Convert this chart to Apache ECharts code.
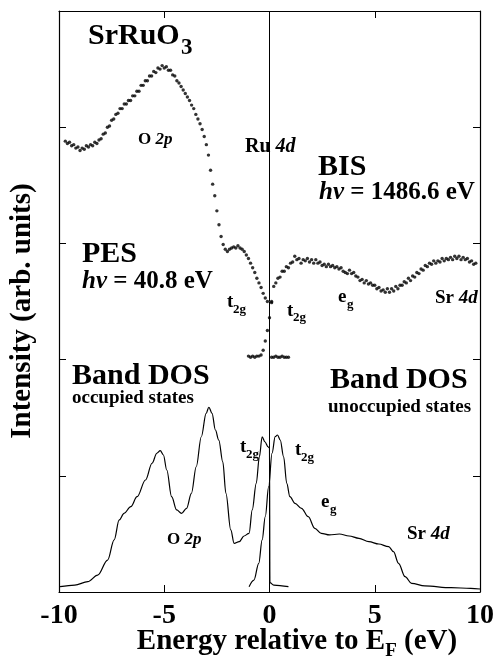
<!DOCTYPE html>
<html>
<head>
<meta charset="utf-8">
<script src="https://cdn.jsdelivr.net/npm/echarts@6/dist/echarts.min.js"></script>
<style>html,body{margin:0;padding:0;background:#fff;}#chart{width:497px;height:661px;}</style>
</head>
<body>
<div id="chart"></div>
<script>
// ---- data ----
const xTicks = [-10, -5, 0, 5, 10];
// PES (hv = 40.8 eV), dots
const pesData = [
[-9.7,3.88],[-9.6,3.86],[-9.5,3.87],[-9.4,3.84],[-9.3,3.85],[-9.2,3.82],[-9.1,3.83],[-9.0,3.80],[-8.9,3.82],[-8.8,3.81],
[-8.7,3.84],[-8.6,3.83],[-8.5,3.85],[-8.4,3.84],[-8.3,3.87],[-8.2,3.86],[-8.1,3.89],[-8.0,3.90],[-7.9,3.94],[-7.8,3.95],
[-7.7,4.00],[-7.6,4.01],[-7.5,4.06],[-7.4,4.07],[-7.3,4.11],[-7.2,4.12],[-7.1,4.16],[-7.0,4.16],[-6.9,4.20],[-6.8,4.20],
[-6.7,4.23],[-6.6,4.23],[-6.5,4.27],[-6.4,4.27],[-6.3,4.31],[-6.2,4.31],[-6.1,4.36],[-6.0,4.36],[-5.9,4.40],[-5.8,4.40],
[-5.7,4.44],[-5.6,4.44],[-5.5,4.48],[-5.4,4.47],[-5.3,4.51],[-5.2,4.50],[-5.1,4.53],[-5.0,4.51],[-4.9,4.52],[-4.8,4.49],
[-4.7,4.49],[-4.6,4.45],[-4.5,4.44],[-4.4,4.40],[-4.3,4.38],[-4.2,4.35],[-4.1,4.32],[-4.0,4.29],[-3.9,4.26],[-3.8,4.23],
[-3.7,4.19],[-3.6,4.16],[-3.5,4.11],[-3.4,4.07],[-3.3,4.03],[-3.2,3.98],[-3.1,3.92],[-3.0,3.85],[-2.9,3.76],[-2.8,3.63],
[-2.7,3.51],[-2.6,3.41],[-2.5,3.28],[-2.4,3.16],[-2.3,3.06],[-2.2,2.99],[-2.1,2.95],[-2.0,2.93],[-1.9,2.95],[-1.8,2.96],
[-1.7,2.97],[-1.6,2.96],[-1.5,2.98],[-1.4,2.96],[-1.3,2.95],[-1.2,2.93],[-1.1,2.90],[-1.0,2.87],[-0.9,2.83],[-0.8,2.79],
[-0.7,2.75],[-0.6,2.70],[-0.5,2.66],[-0.4,2.62],[-0.3,2.57],[-0.2,2.53],[-0.1,2.50],[0.1,2.49],
[0.1,2.02],[0.2,2.02],[0.3,2.03],[0.4,2.02],[0.5,2.02],[0.6,2.03],[0.7,2.02],[0.8,2.02],[0.9,2.02]
];
// BIS (hv = 1486.6 eV), dots
const bisData = [
[-1.0,2.03],[-0.9,2.02],[-0.8,2.03],[-0.7,2.02],[-0.6,2.03],[-0.5,2.03],[-0.4,2.04],[-0.3,2.08],[-0.2,2.16],[-0.1,2.25],
[0.0,2.36],[0.1,2.50],[0.2,2.63],[0.3,2.66],[0.4,2.70],[0.5,2.71],[0.6,2.76],[0.7,2.76],[0.8,2.80],[0.9,2.79],
[1.0,2.83],[1.1,2.84],[1.2,2.89],[1.3,2.86],[1.4,2.87],[1.5,2.83],[1.6,2.86],[1.7,2.85],[1.8,2.87],[1.9,2.84],
[2.0,2.86],[2.1,2.83],[2.2,2.86],[2.3,2.83],[2.4,2.84],[2.5,2.81],[2.6,2.82],[2.7,2.80],[2.8,2.82],[2.9,2.80],
[3.0,2.81],[3.1,2.79],[3.2,2.80],[3.3,2.78],[3.4,2.79],[3.5,2.76],[3.6,2.75],[3.7,2.74],[3.8,2.77],[3.9,2.74],
[4.0,2.75],[4.1,2.72],[4.2,2.71],[4.3,2.68],[4.4,2.69],[4.5,2.66],[4.6,2.68],[4.7,2.65],[4.8,2.66],[4.9,2.64],
[5.0,2.64],[5.1,2.61],[5.2,2.62],[5.3,2.59],[5.4,2.60],[5.5,2.58],[5.6,2.61],[5.7,2.58],[5.8,2.61],[5.9,2.59],
[6.0,2.63],[6.1,2.61],[6.2,2.64],[6.3,2.64],[6.4,2.67],[6.5,2.66],[6.6,2.70],[6.7,2.68],[6.8,2.72],[6.9,2.71],
[7.0,2.75],[7.1,2.74],[7.2,2.78],[7.3,2.77],[7.4,2.81],[7.5,2.80],[7.6,2.83],[7.7,2.82],[7.8,2.85],[7.9,2.83],
[8.0,2.85],[8.1,2.84],[8.2,2.87],[8.3,2.85],[8.4,2.87],[8.5,2.86],[8.6,2.88],[8.7,2.86],[8.8,2.89],[8.9,2.87],
[9.0,2.89],[9.1,2.86],[9.2,2.88],[9.3,2.86],[9.4,2.87],[9.5,2.84],[9.6,2.85],[9.7,2.82],[9.8,2.83]
];
// Band DOS, occupied states
const dosOcc = [
[-9.95,0.046],[-9.25,0.06],[-8.63,0.089],[-8.16,0.146],[-7.69,0.275],[-7.38,0.448],[-7.14,0.62],[-6.91,0.677],
[-6.59,0.734],[-6.29,0.82],[-5.89,0.964],[-5.58,1.108],[-5.35,1.194],[-5.19,1.216],[-5.04,1.179],[-4.88,1.05],
[-4.65,0.82],[-4.41,0.706],[-4.18,0.677],[-3.94,0.72],[-3.71,0.849],[-3.48,1.078],[-3.24,1.336],[-3.01,1.538],
[-2.88,1.59],[-2.73,1.538],[-2.57,1.394],[-2.41,1.308],[-2.22,1.121],[-2.07,0.849],[-1.84,0.534],[-1.68,0.419],
[-1.44,0.433],[-1.21,0.482],[-0.97,0.505],[-0.82,0.706],[-0.63,0.935],[-0.48,1.164],[-0.35,1.336],[-0.22,1.293],
[-0.07,1.25],[0.0,1.24],[0.02,0.08],[0.2,0.06],[0.9,0.046]
];
// Band DOS, unoccupied states
const dosUnocc = [
[-0.97,0.046],[-0.74,0.103],[-0.51,0.247],[-0.35,0.448],[-0.2,0.648],[-0.04,0.906],[0.12,1.194],[0.27,1.337],
[0.38,1.351],[0.51,1.308],[0.67,1.164],[0.82,0.935],[0.97,0.82],[1.21,0.763],[1.52,0.72],[1.84,0.648],
[2.15,0.548],[2.46,0.505],[2.85,0.491],[3.32,0.499],[3.78,0.482],[4.25,0.462],[4.72,0.433],[5.19,0.413],
[5.66,0.39],[5.89,0.347],[6.13,0.247],[6.44,0.132],[6.75,0.075],[7.38,0.052],[8.63,0.037],[9.56,0.032],[10.0,0.026]
];

// ---- chart ----
const FF = '"Liberation Serif", "Times New Roman", serif';
const chart = echarts.init(document.getElementById('chart'), null, {renderer: 'canvas'});
const mctx = document.createElement('canvas').getContext('2d');
function measure(text, size, italic) {
  mctx.font = (italic ? 'italic ' : '') + 'bold ' + size + 'px ' + FF;
  return mctx.measureText(text).width;
}

function T(x, y, text, size, opts) {
  opts = opts || {};
  const st = {
    text: text,
    fontFamily: FF,
    fontSize: size,
    fontWeight: opts.weight || 'bold',
    fontStyle: opts.italic ? 'italic' : 'normal',
    fill: '#000',
    align: opts.align || 'left',
    verticalAlign: 'middle',
    textAlign: opts.align || 'left',
    textVerticalAlign: 'middle'
  };
  if (opts.rich) st.rich = opts.rich;
  return {type: 'text', x: x, y: y, rotation: opts.rotation || 0, silent: true, z: 100, style: st};
}
function richSet(size) {
  return {
    b: {fontFamily: FF, fontSize: size, fontWeight: 'bold', fill: '#000'},
    i: {fontFamily: FF, fontSize: size, fontWeight: 'bold', fontStyle: 'italic', fill: '#000'}
  };
}
// horizontally chained runs (for subscripts), centred on cx
function runs(cx, y, parts) {
  const widths = parts.map(p => measure(p.text, p.size, p.italic));
  const total = widths.reduce((a, b) => a + b, 0);
  let x = cx - total / 2;
  return parts.map((p, k) => {
    const el = T(x, y + (p.dy || 0), p.text, p.size, {italic: p.italic});
    x += widths[k];
    return el;
  });
}

const axisStyle = {onZero: false, lineStyle: {color: '#000', width: 1.2}};
const tickStyle = {inside: true, length: 7, lineStyle: {color: '#000', width: 1}};

const option = {
  backgroundColor: '#fff',
  animation: false,
  grid: {left: 59, right: 11, top: 11, bottom: 69, containLabel: false},
  xAxis: [
    {type: 'value', min: -10, max: 10, interval: 5, position: 'bottom',
     axisLine: axisStyle, axisTick: tickStyle, splitLine: {show: false},
     axisLabel: {margin: 10, color: '#000', fontFamily: FF, fontWeight: 'bold', fontSize: 28,
       formatter: v => xTicks.indexOf(v) >= 0 ? String(v) : ''}},
    {type: 'value', min: -10, max: 10, interval: 5, position: 'top',
     axisLine: axisStyle, axisTick: tickStyle, splitLine: {show: false}, axisLabel: {show: false}}
  ],
  yAxis: [
    {type: 'value', min: 0, max: 5, interval: 1, position: 'left',
     axisLine: axisStyle, axisTick: tickStyle, splitLine: {show: false}, axisLabel: {show: false}},
    {type: 'value', min: 0, max: 5, interval: 1, position: 'right',
     axisLine: axisStyle, axisTick: tickStyle, splitLine: {show: false}, axisLabel: {show: false}}
  ],
  series: [
    {name: 'PES', type: 'scatter', data: pesData, symbol: 'circle', symbolSize: 3.4,
     itemStyle: {color: '#000'}, silent: true,
     markLine: {silent: true, symbol: 'none', label: {show: false},
       lineStyle: {color: '#000', width: 1, type: 'solid'}, data: [{xAxis: 0}]}},
    {name: 'BIS', type: 'scatter', data: bisData, symbol: 'circle', symbolSize: 3.4,
     itemStyle: {color: '#000'}, silent: true},
    {name: 'DOS occupied', type: 'line', data: dosOcc, smooth: 0.35, smoothMonotone: 'x', showSymbol: false,
     lineStyle: {color: '#000', width: 1.2}, silent: true},
    {name: 'DOS unoccupied', type: 'line', data: dosUnocc, smooth: 0.35, smoothMonotone: 'x', showSymbol: false,
     lineStyle: {color: '#000', width: 1.2}, silent: true}
  ],
  graphic: [
    T(88, 36, 'SrRuO', 30),
    T(181, 48, '3', 23),
    T(138, 140, '{b|O }{i|2p}', 17, {rich: richSet(17)}),
    T(245, 147, '{b|Ru }{i|4d}', 20, {rich: richSet(20)}),
    T(318, 167, 'BIS', 30),
    T(319, 193, '{i|hν}{b| = 1486.6 eV}', 25, {rich: richSet(25)}),
    T(82, 254, 'PES', 30),
    T(82, 282, '{i|hν}{b| = 40.8 eV}', 25, {rich: richSet(25)}),
    T(227, 302, 't', 19), T(233, 310, '2g', 13),
    T(287, 311, 't', 19), T(293, 318, '2g', 13),
    T(338, 297, 'e', 19), T(347, 305, 'g', 13),
    T(435, 298, '{b|Sr }{i|4d}', 19, {rich: richSet(19)}),
    T(72, 376, 'Band DOS', 30),
    T(72, 398, 'occupied states', 19),
    T(330, 380, 'Band DOS', 30),
    T(328, 407, 'unoccupied states', 19),
    T(240, 447, 't', 19), T(246, 455, '2g', 13),
    T(295, 450, 't', 19), T(301, 458, '2g', 13),
    T(321, 502, 'e', 19), T(330, 510, 'g', 13),
    T(407, 534, '{b|Sr }{i|4d}', 19, {rich: richSet(19)}),
    T(167, 540, '{b|O }{i|2p}', 17, {rich: richSet(17)})
  ].concat(runs(297, 642, [
    {text: 'Energy relative to E', size: 29},
    {text: 'F', size: 19, dy: 9},
    {text: ' (eV)', size: 29}
  ])).concat([
    T(23, 311, 'Intensity (arb. units)', 29, {align: 'center', rotation: Math.PI / 2})
  ])
};
chart.setOption(option);
</script>
</body>
</html>
